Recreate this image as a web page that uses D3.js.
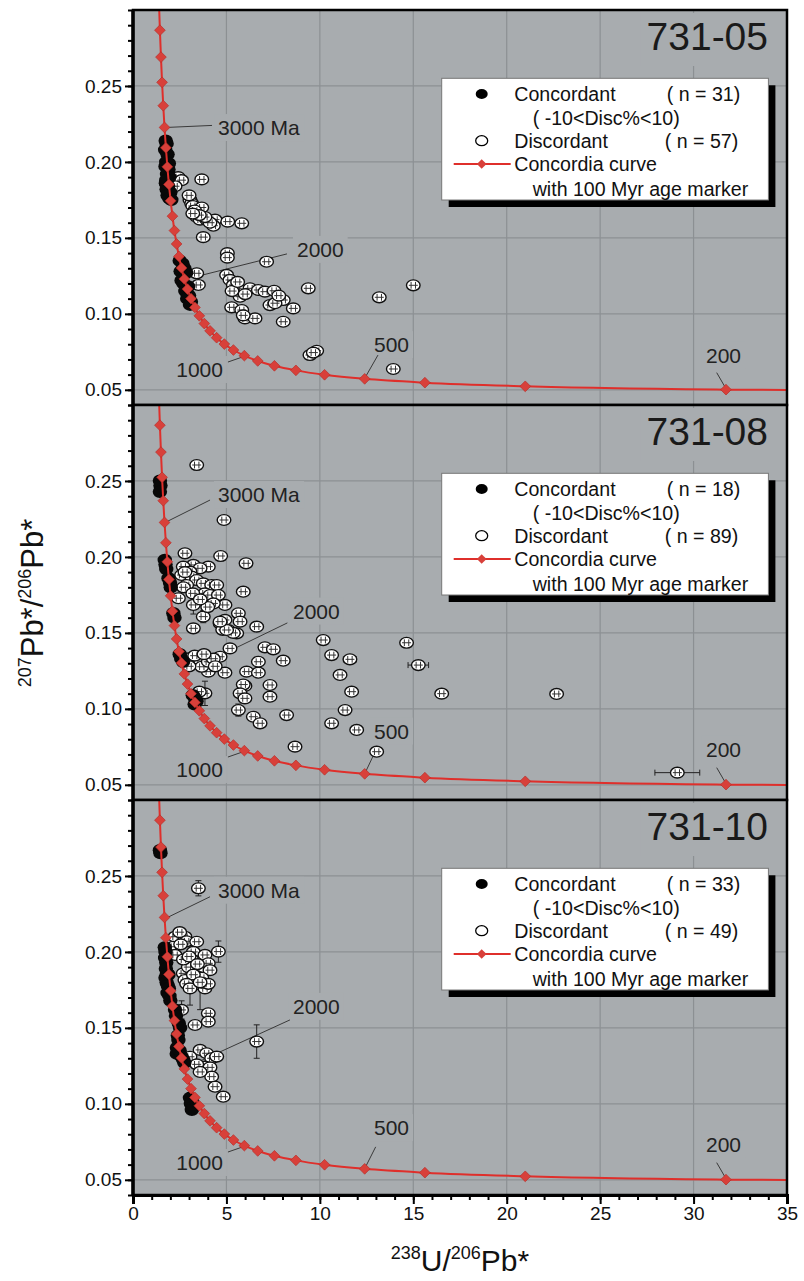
<!DOCTYPE html>
<html lang="en">
<head>
<meta charset="utf-8">
<title>731 concordia</title>
<script src="https://cdn.jsdelivr.net/npm/d3@7"></script>
<style>
  * { margin: 0; padding: 0; }
  body { background: #fff; }
  svg { display: block; font-family: Arial, "Liberation Sans", sans-serif; }
</style>
</head>
<body>
<div id="contents"></div>
<script>
// ---- data ----
const samples = ["731-05", "731-08", "731-10"];
const nConc = [31, 18, 33];
const nDisc = [57, 89, 49];

// concordia age markers (Ma): 238U/206Pb, 207Pb/206Pb
const markerAge = [100,200,300,400,500,600,700,800,900,1000,1100,1200,1300,1400,1500,1600,1700,1800,
  1900,2000,2100,2200,2300,2400,2500,2600,2700,2800,2900,3000,3100,3200,3300,3400,3500];
const markerX = [63.97,31.735,20.992,15.621,12.399,10.252,8.718,7.568,6.674,5.959,5.375,4.888,4.476,4.123,
  3.817,3.550,3.314,3.105,2.917,2.749,2.597,2.459,2.333,2.217,2.111,2.013,1.922,1.838,1.760,1.687,1.619,
  1.556,1.496,1.440,1.387];
const markerY = [0.0480,0.0501,0.0523,0.0547,0.0572,0.0599,0.0628,0.0658,0.0690,0.0725,0.0762,0.0801,
  0.0843,0.0888,0.0936,0.0987,0.1042,0.1100,0.1163,0.1230,0.1302,0.1378,0.1460,0.1548,0.1643,0.1744,
  0.1852,0.1968,0.2093,0.2227,0.2370,0.2524,0.2690,0.2867,0.3058];
const labelAges = [3000, 2000, 1000, 500, 200];
const labelText = ["3000 Ma", "2000", "1000", "500", "200"];

// points: [x, y, errX, errY]
const conc05 = [[1.75,0.214],[1.80,0.212],[1.72,0.208],[1.85,0.205],[1.78,0.200],[1.74,0.197],[1.90,0.195],
  [1.82,0.192],[1.95,0.190],[1.76,0.186],[1.88,0.184],[1.80,0.182],[2.00,0.180],[1.85,0.178],[1.95,0.176],
  [2.05,0.175],[1.78,0.188],[1.92,0.199],[2.50,0.135],[2.65,0.133],[2.75,0.130],[2.55,0.128],[2.85,0.127],
  [2.60,0.122],[2.70,0.120],[2.95,0.118],[2.80,0.115],[3.00,0.112],[2.90,0.110],[3.10,0.108],[3.05,0.106]];
const disc05 = [[2.42,0.190],[2.60,0.188],[3.68,0.1885],[2.25,0.184],[3.05,0.175],[3.14,0.1727],[3.20,0.171],
  [3.68,0.170],[3.40,0.164],[3.59,0.162],[3.94,0.162],[4.39,0.162],[4.30,0.158],[4.12,0.160],[3.85,0.1637],
  [5.07,0.1607],[5.82,0.1596],[3.76,0.1505],[5.05,0.140],[5.05,0.137],[7.15,0.1343],[3.41,0.1267],[3.50,0.119],
  [5.01,0.1256],[5.19,0.1223],[5.37,0.119],[5.58,0.1168],[5.73,0.1113],[6.26,0.1168],[6.71,0.1157],
  [7.06,0.1146],[7.55,0.1152],[8.04,0.1091],[7.33,0.1058],[7.60,0.107],[8.58,0.1036],[5.28,0.1043],
  [5.82,0.1025],[5.99,0.097],[6.53,0.097],[8.04,0.0948],[9.38,0.1168],[13.18,0.1109],[15.0,0.1188],
  [9.47,0.0729],[9.83,0.0757],[9.65,0.0745],[13.93,0.0637],[3.00,0.178],[3.30,0.168],[3.55,0.165],
  [5.30,0.115],[5.60,0.121],[6.00,0.113],[7.80,0.112],[5.90,0.099],[3.20,0.166]];

const conc08 = [[1.44,0.2502],[1.47,0.247],[1.44,0.2429],[1.70,0.198],[1.74,0.195],[1.78,0.192],[1.90,0.186],
  [1.98,0.183],[2.02,0.180],[2.16,0.163],[2.22,0.160],[2.50,0.136],[2.58,0.133],[2.68,0.131],[3.20,0.109],
  [3.32,0.107],[3.40,0.105],[3.30,0.103]];
const disc08 = [[3.41,0.2605],[4.87,0.2243],[2.78,0.2024],[4.69,0.2006],[6.05,0.1958],[3.23,0.1947],
  [4.03,0.1936],[2.69,0.1936],[3.59,0.1925],[2.60,0.1881],[3.05,0.1903],[3.14,0.187],[3.41,0.1848],
  [2.87,0.1815],[3.76,0.1826],[4.21,0.1815],[4.48,0.1815],[3.85,0.176],[4.12,0.1749],[4.57,0.1749],
  [4.92,0.1684],[4.30,0.1694],[2.43,0.1728],[3.23,0.1684,0,0.006],[3.76,0.1607,0,0.004],[3.23,0.153],
  [4.92,0.1585],[5.64,0.1629],[5.73,0.1574],[5.90,0.1771],[4.66,0.1563],[5.10,0.1519],[5.55,0.1497],
  [6.62,0.1541],[4.80,0.152],[10.18,0.1453],[10.63,0.1354],[11.61,0.1326,0.35,0],[11.08,0.1223],
  [11.70,0.1113],[11.35,0.0992],[10.63,0.0905],[11.97,0.0861],[13.04,0.0718],[14.64,0.1435],
  [15.27,0.1288,0.55,0],[16.52,0.1100],[22.67,0.1098],[29.13,0.058,1.2,0],[7.06,0.1405],[7.51,0.1392],
  [8.04,0.1317],[6.71,0.131],[6.08,0.1245],[6.71,0.1238],[7.33,0.1157],[5.99,0.1151],[5.90,0.1160],
  [5.73,0.1102],[7.33,0.108],[5.99,0.1069],[5.64,0.0992,0,0.004],[6.44,0.0948],[6.80,0.0905],
  [8.22,0.0959],[8.67,0.0751],[5.37,0.150],[5.19,0.1398],[4.66,0.1343],[4.03,0.1245],[4.92,0.1238],
  [3.59,0.1321],[2.96,0.1332],[3.68,0.1277],[4.03,0.131],[3.85,0.1102,0,0.008],[3.55,0.1113],
  [2.70,0.180],[2.78,0.190],[5.01,0.1519],[4.66,0.1574],[3.30,0.135],[3.00,0.128],[4.30,0.133],
  [3.80,0.136],[4.40,0.128],[3.20,0.176],[4.00,0.167],[3.60,0.172]];

const conc10 = [[1.44,0.267],[1.47,0.265],[1.70,0.203],[1.74,0.200],[1.72,0.196],[1.78,0.193],[1.76,0.189],
  [1.82,0.186],[1.74,0.183],[1.80,0.180],[1.86,0.178],[1.92,0.176],[1.85,0.173],[1.95,0.171],[2.00,0.168],
  [1.90,0.185],[2.25,0.162],[2.30,0.158],[2.45,0.153],[2.52,0.150],[2.40,0.145],[2.43,0.142],[2.35,0.137],
  [2.34,0.133],[2.50,0.135],[2.60,0.131],[2.69,0.129],[2.75,0.127],[3.05,0.104],[3.14,0.102],[3.10,0.100],
  [3.23,0.098],[3.15,0.096]];
const disc10 = [[3.50,0.2419,0,0.005],[2.25,0.210],[2.78,0.210],[2.50,0.213],[2.87,0.207],[3.41,0.2067],
  [2.16,0.2034],[3.23,0.200],[4.57,0.2002,0,0.007],[2.25,0.198],[3.85,0.198],[3.14,0.195],[3.23,0.1903],
  [3.68,0.190],[4.03,0.1925],[4.12,0.188],[2.69,0.1859],[3.41,0.184],[2.78,0.1815],[3.85,0.176],
  [3.68,0.183],[2.96,0.190],[3.23,0.185],[3.23,0.1782],[2.87,0.179],[4.03,0.179],[2.60,0.1618,0,0.006],
  [3.32,0.1519],[4.03,0.1596],[4.03,0.1541],[6.62,0.141,0,0.011],[3.59,0.1355],[3.94,0.1333],[3.05,0.131],
  [4.21,0.130],[4.48,0.1311],[3.85,0.1245],[4.12,0.124],[4.21,0.1179],[4.39,0.1113],[4.83,0.1047],
  [3.41,0.126],[3.59,0.121],[2.70,0.195],[3.05,0.176,0,0.011],[3.59,0.180,0,0.018],[3.00,0.197],
  [2.55,0.205],[3.45,0.192]];

const concSets = [conc05, conc08, conc10];
const discSets = [disc05, disc08, disc10];

const xTicks = [0, 5, 10, 15, 20, 25, 30, 35];
const yTicks = [0.05, 0.10, 0.15, 0.20, 0.25];

// ---- layout ----
const W = 804, H = 1281;
const L = 133, R = 787, T0 = 10, PH = 395;
const BG = "#a8acaf", GRID = "#8c9093", RED = "#df2f2b";

// label placement relative to the age marker, per panel
// [textDx, textDy, anchor, leadX0, leadY0, leadX1, leadY1]
const labelPos = [
  [[53.5,7.6,"start",2.5,0,47.5,-2],[112.6,-22,"start",18.6,-4,102.6,-25],[-21.4,21.4,"end",-16.4,6.4,-2,1.4],
   [9.3,-26.8,"start",1.3,-2.8,13.3,-23.8],[-20,-26.7,"start",-9.3,-17,-1,-2.7]],
  [[53.5,-20.4,"start",3.5,-1.4,45.5,-22.4],[108.6,-55.3,"start",4,-3,103,-51],[-21.4,26.4,"end",-16.4,6.4,-2,1.4],
   [9.3,-35.3,"start",1.3,-2.8,10.3,-21.8],[-20,-27.7,"start",-9.3,-17,-1,-2.7]],
  [[53.5,-19.7,"start",2,0.5,45.5,-20.7],[108.6,-55,"start",5,-3,105.6,-49],[-21.4,24.4,"end",-16.4,6.4,-2,1.4],
   [9.3,-33.8,"start",1.3,-2.8,11,-22],[-20,-27.7,"start",-9.3,-17,-1,-2.7]]
];

const x = d3.scaleLinear().domain([0, 35]).range([L, R]);

const svg = d3.select("#contents").append("svg")
  .attr("width", W).attr("height", H);
const defs = svg.append("defs");

const markers = markerAge.map((a, i) => ({age: a, x: markerX[i], y: markerY[i]}));

samples.forEach((name, i) => {
  const top = T0 + i * PH;
  const y = d3.scaleLinear().domain([0.04, 0.30]).range([top + PH, top]);
  const g = svg.append("g").attr("class", "panel");

  defs.append("clipPath").attr("id", "clip" + i)
    .append("rect").attr("x", L).attr("y", top).attr("width", R - L).attr("height", PH);

  g.append("rect").attr("x", L).attr("y", top).attr("width", R - L).attr("height", PH)
    .attr("fill", BG);

  // grid
  g.selectAll(".gx").data(xTicks.filter(d => d > 0 && d < 35)).enter().append("line")
    .attr("x1", d => x(d)).attr("x2", d => x(d)).attr("y1", top).attr("y2", top + PH)
    .attr("stroke", GRID).attr("stroke-width", 1.2);
  g.selectAll(".gy").data(yTicks).enter().append("line")
    .attr("x1", L).attr("x2", R).attr("y1", d => y(d)).attr("y2", d => y(d))
    .attr("stroke", GRID).attr("stroke-width", 1.2);

  const inner = g.append("g").attr("clip-path", "url(#clip" + i + ")");

  // age labels (with background boxes that break the grid)
  const lab = inner.append("g");
  labelAges.forEach((age, k) => {
    const m = markers.find(d => d.age === age);
    const mx = x(m.x), my = y(m.y);
    const p = labelPos[i][k];
    const t = lab.append("text")
      .attr("x", mx + p[0]).attr("y", my + p[1])
      .attr("text-anchor", p[2])
      .attr("font-size", "21px").attr("fill", "#222")
      .text(labelText[k]);
    const bb = t.node().getBBox();
    lab.insert("rect", () => t.node())
      .attr("x", bb.x - 4).attr("y", bb.y - 2).attr("width", bb.width + 8).attr("height", bb.height + 4)
      .attr("fill", BG);
    lab.append("line")
      .attr("x1", mx + p[3]).attr("y1", my + p[4]).attr("x2", mx + p[5]).attr("y2", my + p[6])
      .attr("stroke", "#3a3a3a").attr("stroke-width", 1);
  });

  // error bars
  const pts = inner.append("g");
  const withErr = discSets[i].filter(d => d[2] || d[3]);
  withErr.forEach(d => {
    const cx = x(d[0]), cy = y(d[1]);
    if (d[2]) {
      const x0 = x(d[0] - d[2]), x1 = x(d[0] + d[2]);
      pts.append("path").attr("d", `M${x0},${cy}H${x1}M${x0},${cy-3}v6M${x1},${cy-3}v6`)
        .attr("stroke", "#222").attr("fill", "none").attr("stroke-width", 1);
    }
    if (d[3]) {
      const y0 = y(d[1] - d[3]), y1 = y(d[1] + d[3]);
      pts.append("path").attr("d", `M${cx},${y0}V${y1}M${cx-3},${y0}h6M${cx-3},${y1}h6`)
        .attr("stroke", "#222").attr("fill", "none").attr("stroke-width", 1);
    }
  });

  // discordant
  const disc = pts.selectAll(".disc").data(discSets[i]).enter().append("g")
    .attr("transform", d => `translate(${x(d[0])},${y(d[1])})`);
  disc.append("ellipse").attr("rx", 6.8).attr("ry", 5.4)
    .attr("fill", "#fff").attr("stroke", "#111").attr("stroke-width", 1.4);
  disc.append("path").attr("d", "M-4.5,0H4.5M-2.2,-3.4v6.8M2.2,-3.4v6.8")
    .attr("stroke", "#333").attr("stroke-width", 1);

  // concordant
  pts.selectAll(".conc").data(concSets[i]).enter().append("ellipse")
    .attr("cx", d => x(d[0])).attr("cy", d => y(d[1]))
    .attr("rx", 7.2).attr("ry", 6.2).attr("fill", "#080808");

  // concordia curve
  const line = d3.line().x(d => x(d.x)).y(d => y(d.y)).curve(d3.curveMonotoneX);
  inner.append("path").datum(markers.slice().sort((a, b) => a.x - b.x))
    .attr("d", line).attr("fill", "none").attr("stroke", RED).attr("stroke-width", 2);
  inner.selectAll(".mk").data(markers).enter().append("rect")
    .attr("x", -3.8).attr("y", -3.8).attr("width", 7.6).attr("height", 7.6)
    .attr("transform", d => `translate(${x(d.x)},${y(d.y)}) rotate(45)`)
    .attr("fill", "#d8403a").attr("stroke", "#b52a26").attr("stroke-width", 0.6);

  // sample title
  const title = g.append("text").attr("x", R - 19).attr("y", top + 40)
    .attr("text-anchor", "end").attr("font-size", "39px").attr("fill", "#1a1a1a")
    .text(name);
  const tb = title.node().getBBox();
  g.insert("rect", () => title.node()).attr("x", tb.x - 6).attr("y", tb.y - 2)
    .attr("width", tb.width + 12).attr("height", tb.height + 10).attr("fill", BG);

  // legend
  const lx = 441.7, ly = top + 68.3, lw = 326.7, lh = 121.7;
  const lg = g.append("g");
  lg.append("rect").attr("x", lx + 7).attr("y", ly + 7).attr("width", lw).attr("height", lh).attr("fill", "#000");
  lg.append("rect").attr("x", lx).attr("y", ly).attr("width", lw).attr("height", lh)
    .attr("fill", "#fff").attr("stroke", "#777").attr("stroke-width", 1);
  const rows = [15.7, 39.7, 62.4, 85.7, 110.7];
  const lt = (tx, ry, s) => lg.append("text").attr("x", lx + tx).attr("y", ly + ry + 7)
    .attr("font-size", "19.6px").attr("fill", "#111").text(s);
  lg.append("ellipse").attr("cx", lx + 40).attr("cy", ly + rows[0]).attr("rx", 6).attr("ry", 5).attr("fill", "#000");
  lt(72.6, rows[0], "Concordant");
  lt(225, rows[0], "( n = " + nConc[i] + ")");
  lt(91, rows[1], "( -10<Disc%<10)");
  lg.append("ellipse").attr("cx", lx + 40).attr("cy", ly + rows[2]).attr("rx", 6).attr("ry", 5)
    .attr("fill", "#fff").attr("stroke", "#000").attr("stroke-width", 1.3);
  lt(72.6, rows[2], "Discordant");
  lt(223, rows[2], "( n = " + nDisc[i] + ")");
  lg.append("line").attr("x1", lx + 12).attr("x2", lx + 69).attr("y1", ly + rows[3]).attr("y2", ly + rows[3])
    .attr("stroke", RED).attr("stroke-width", 2);
  lg.append("rect").attr("x", -3.4).attr("y", -3.4).attr("width", 6.8).attr("height", 6.8)
    .attr("transform", `translate(${lx + 40},${ly + rows[3]}) rotate(45)`).attr("fill", "#d8403a");
  lt(72.6, rows[3], "Concordia curve");
  lt(91, rows[4], "with 100 Myr age marker");

  // y axis
  const yMinor = d3.range(4, 31).map(v => v / 100);
  g.append("g").attr("transform", `translate(${L},0)`)
    .call(d3.axisLeft(y).tickValues(yMinor).tickSize(5).tickFormat(""))
    .call(a => a.select(".domain").remove())
    .selectAll("line").attr("stroke", "#000").attr("stroke-width", 2);
  const ya = g.append("g").attr("transform", `translate(${L},0)`)
    .call(d3.axisLeft(y).tickValues(yTicks).tickSize(8).tickPadding(3).tickFormat(d3.format(".2f")));
  ya.select(".domain").remove();
  ya.selectAll("line").attr("stroke", "#000").attr("stroke-width", 2);
  ya.selectAll("text").attr("font-size", "19px").attr("fill", "#111").attr("font-family", "Arial, 'Liberation Sans', sans-serif");

  // frame
  g.append("rect").attr("x", L).attr("y", top).attr("width", R - L).attr("height", PH)
    .attr("fill", "none").attr("stroke", "#000").attr("stroke-width", 2.5);
  g.append("line").attr("x1", L).attr("x2", L).attr("y1", top).attr("y2", top + PH)
    .attr("stroke", "#000").attr("stroke-width", 3.5);
});

// x axis on the bottom panel
const yBottom = T0 + 3 * PH;
const xMinor = d3.range(0, 36);
svg.append("g").attr("transform", `translate(0,${yBottom})`)
  .call(d3.axisBottom(x).tickValues(xMinor).tickSize(5).tickFormat(""))
  .call(a => a.select(".domain").remove())
  .selectAll("line").attr("stroke", "#000").attr("stroke-width", 2);
const xa = svg.append("g").attr("transform", `translate(0,${yBottom})`)
  .call(d3.axisBottom(x).tickValues(xTicks).tickSize(9).tickPadding(3).tickFormat(d3.format("d")));
xa.select(".domain").attr("stroke", "#000").attr("stroke-width", 3);
xa.selectAll("line").attr("stroke", "#000").attr("stroke-width", 2);
xa.selectAll("text").attr("font-size", "19px").attr("fill", "#111").attr("font-family", "Arial, 'Liberation Sans', sans-serif");

// axis titles
const xt = svg.append("text").attr("x", 460).attr("y", 1271).attr("text-anchor", "middle")
  .attr("font-size", "30px").attr("fill", "#111");
xt.append("tspan").attr("font-size", "18px").attr("dy", -12).text("238");
xt.append("tspan").attr("dy", 12).text("U/");
xt.append("tspan").attr("font-size", "18px").attr("dy", -12).text("206");
xt.append("tspan").attr("dy", 12).text("Pb*");

const yt = svg.append("text").attr("transform", "translate(43,603) rotate(-90)")
  .attr("text-anchor", "middle").attr("font-size", "31px").attr("fill", "#111");
yt.append("tspan").attr("font-size", "18px").attr("dy", -12).text("207");
yt.append("tspan").attr("dy", 12).text("Pb*/");
yt.append("tspan").attr("font-size", "18px").attr("dy", -12).text("206");
yt.append("tspan").attr("dy", 12).text("Pb*");
</script>
</body>
</html>
